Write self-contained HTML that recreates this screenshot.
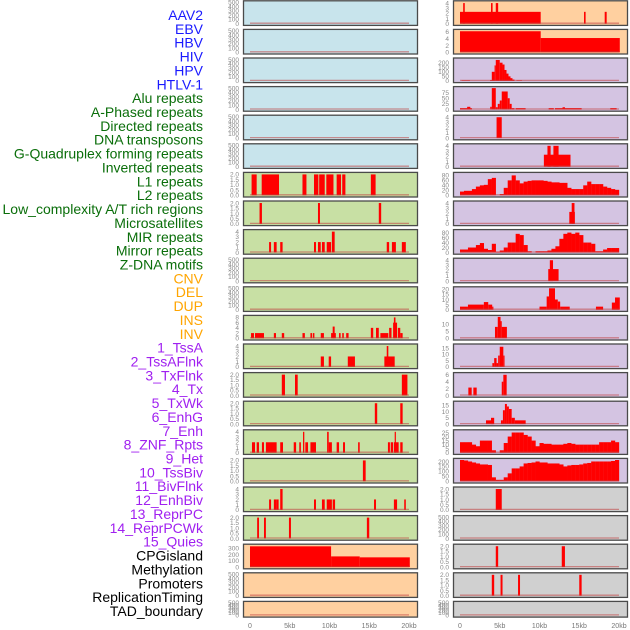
<!DOCTYPE html>
<html><head><meta charset="utf-8"><style>
html,body{margin:0;padding:0;background:#fff;}
svg{display:block;}
.lab{font-family:"Liberation Sans",sans-serif;font-size:14px;}
.tk{font-family:"Liberation Sans",sans-serif;font-size:6.5px;fill:#888;}
.xt{font-family:"Liberation Sans",sans-serif;font-size:7px;fill:#777;}
</style></head><body>
<svg id="chart" width="630" height="630" viewBox="0 0 630 630" xmlns="http://www.w3.org/2000/svg"></svg>
<script>
// ---- labels ----
const labelNames = ["AAV2","EBV","HBV","HIV","HPV","HTLV-1","Alu repeats","A-Phased repeats","Directed repeats","DNA transposons","G-Quadruplex forming repeats","Inverted repeats","L1 repeats","L2 repeats","Low_complexity A/T rich regions","Microsatellites","MIR repeats","Mirror repeats","Z-DNA motifs","CNV","DEL","DUP","INS","INV","1_TssA","2_TssAFlnk","3_TxFlnk","4_Tx","5_TxWk","6_EnhG","7_Enh","8_ZNF_Rpts","9_Het","10_TssBiv","11_BivFlnk","12_EnhBiv","13_ReprPC","14_ReprPCWk","15_Quies","CPGisland","Methylation","Promoters","ReplicationTiming","TAD_boundary"];
const labelGroups = [6,13,5,15,5];
const groupColors = ["#1a1aff","#0a6e0a","#ffa500","#a020f0","#000000"];
const xTickValues = [0,5,10,15,20];
const xTickLabels = ["0","5kb","10kb","15kb","20kb"];

// ---- data (kb start, kb end, value) ----
const L6 = [[0.2,0.84,2],[1.47,3.65,2],[6.6,7.1,2],[8.05,8.6,2],[8.7,9.4,2],[9.6,10.5,2],[10.9,11.45,2],[11.6,12.0,2],[15.2,15.8,2]];
const L7 = [[1.2,1.5,2],[8.55,8.8,2],[16.2,16.5,2]];
const L8 = [[2.4,2.65,2],[3.0,3.35,2],[3.8,4.1,2],[8.05,8.3,2],[8.55,8.9,2],[9.05,9.4,2],[9.65,10.2,2],[10.3,10.65,4],[17.2,17.5,2],[17.85,18.35,2],[19.1,19.6,2]];
const L11 = [[0.13,0.5,2],[0.63,1.76,2],[3.0,3.27,2],[4.0,4.3,2],[6.6,6.9,2],[7.6,7.8,2],[7.9,8.1,2],[8.9,9.3,2],[10.2,10.8,2],[10.4,10.65,4.5],[11.2,11.4,2],[11.6,11.8,2],[12.1,12.4,2],[15.2,15.5,4],[15.85,16.2,4],[16.4,17.4,2],[17.5,17.8,4],[18.0,18.5,6],[18.1,18.3,8],[18.6,18.9,4],[18.9,19.2,2]];
const L12 = [[8.9,9.3,2],[9.9,10.2,2],[12.3,13.2,2],[16.9,18.2,2],[17.2,17.4,4]];
const L13 = [[4.0,4.4,2],[5.66,6.0,2],[19.1,19.8,2]];
const L14 = [[15.7,16.0,2],[18.9,19.2,2]];
const L15 = [[0.25,0.63,2],[0.84,1.13,2],[1.5,1.76,2],[2.0,3.35,2],[3.8,4.15,2],[5.5,5.8,2],[6.2,6.4,2],[6.67,6.83,4],[6.96,7.3,2],[7.6,8.3,2],[9.7,9.9,4],[9.9,10.3,2],[10.9,11.2,2],[11.7,11.95,2],[13.6,13.8,2],[17.35,17.6,2],[17.7,18.0,2],[18.1,18.7,2],[18.2,18.35,4],[18.9,19.2,2]];
const L16 = [[14.2,14.55,2]];
const L17 = [[2.4,2.65,2],[3.0,3.35,2],[3.35,3.6,2],[3.8,4.1,4],[8.05,8.3,2],[9.05,9.4,2],[9.65,10.3,2],[10.4,10.7,2],[15.6,15.85,2],[18.1,18.5,2],[19.4,19.6,2]];
const L18 = [[0.9,1.13,2],[1.76,2.0,2],[4.9,5.15,2],[14.7,15.0,2]];
const L19 = [[0,10.2,330],[10.2,13.8,170],[13.8,20.1,155]];
const R0 = [[0,10.15,2.3],[0.4,0.6,4],[3.9,4.1,4],[4.5,4.8,4],[15.6,15.8,2.3],[18.2,18.45,2.3]];
const R1 = [[0,10.15,6.2],[10.15,20.1,4.2]];
const R2 = [[0.2,1.25,5],[3.8,4.0,10],[4.0,4.35,100],[4.35,4.5,170],[4.5,5.0,230],[5.0,5.35,200],[5.35,5.6,180],[5.6,5.85,120],[5.85,6.1,80],[6.1,6.35,50],[6.35,6.6,30],[6.6,6.85,15],[7.1,7.8,5]];
const R3 = [[0,1.5,6],[0.9,1.3,12],[3.8,4.0,12],[4.0,4.5,95],[4.5,4.75,10],[4.75,5.0,25],[5.0,5.25,40],[5.25,6.0,80],[6.0,6.25,50],[6.25,6.5,25],[6.5,6.85,6],[7.0,8.25,6],[11.15,11.8,6],[11.95,15.3,6],[12.9,13.2,10],[18.9,19.7,6]];
const R4 = [[4.6,5.25,4]];
const R5 = [[10.55,13.9,2.3],[11.0,11.4,4],[11.75,12.4,4]];
const R6 = [15,18,18,25,35,40,42,65,70,0,5,30,60,80,60,48,55,58,60,60,60,58,55,52,52,50,50,30,25,25,25,40,55,45,45,45,35,30,25,22];
const R7 = [[13.75,14.45,2.3],[14.05,14.4,4]];
const R8 = [12,12,20,20,30,38,15,10,35,3,8,20,40,40,75,70,30,5,0,5,5,5,8,15,25,55,75,80,75,80,70,40,40,35,5,5,12,18,18,18];
const R9 = [[11.1,12.4,2.3],[11.3,11.7,4]];
const R10 = [[0,1,3],[1,3.0,5],[3.0,3.55,7.5],[3.55,4.05,5],[4.05,4.2,3],[10,10.9,3],[10.9,11.2,13],[11.2,11.95,21],[11.95,12.3,10],[12.3,12.6,8],[12.6,13.8,3],[17.1,18.0,3],[19.1,19.5,7],[19.5,20.1,12]];
const R11 = [[4.4,4.75,8],[4.75,5.1,15],[5.1,5.25,12],[5.25,5.9,8]];
const R12 = [[4.07,4.3,3],[4.3,4.6,7],[4.6,4.8,3],[4.8,5.0,9],[5.0,5.45,16],[5.45,5.6,9]];
const R13 = [[1.05,1.47,2.3],[1.68,2.1,2.3],[5.25,5.45,4],[5.45,5.87,6]];
const R14 = [[3.27,4.2,3],[3.9,4.3,5],[5.15,5.4,3],[5.4,5.65,11],[5.65,5.9,16],[5.9,6.15,14],[6.15,6.5,12],[6.5,6.9,5],[6.9,8.26,3]];
const R15 = [13,13,13,10,8,15,15,15,3,0,3,12,20,25,25,25,22,20,15,8,12,11,11,10,10,10,11,12,11,10,10,10,10,10,10,13,13,13,15,13];
const R16 = [215,210,200,190,180,170,170,165,40,15,15,40,80,130,130,150,180,185,190,200,190,190,180,180,180,170,150,160,165,165,170,180,185,200,200,200,200,200,205,215];
const R17 = [[4.5,5.25,2]];
const R19 = [[4.5,4.8,2],[12.8,13.2,2]];
const R20 = [[4.0,4.3,2],[5.1,5.35,2],[7.3,7.55,2],[15.0,15.3,2]];
const EMPTY = [];

const T500 = [0,100,200,300,400,500];
const T2 = [0,0.5,1,1.5,2];
const T4 = [0,1,2,3,4];

// ---- track list: [col,row,bgKey,ticks,ymax,data,kind,name] ----
const tracks = [
 [0,0,"b",T500,500,EMPTY,"s","aav2"],[0,1,"b",T500,500,EMPTY,"s","ebv"],[0,2,"b",T500,500,EMPTY,"s","hbv"],
 [0,3,"b",T500,500,EMPTY,"s","hiv"],[0,4,"b",T500,500,EMPTY,"s","hpv"],[0,5,"b",T500,500,EMPTY,"s","htlv1"],
 [0,6,"g",T2,2.05,L6,"s","alu"],[0,7,"g",T2,2.05,L7,"s","a-phased"],[0,8,"g",T4,4.1,L8,"s","directed"],
 [0,9,"g",T500,500,EMPTY,"s","dna-transposons"],[0,10,"g",T500,500,EMPTY,"s","g-quadruplex"],
 [0,11,"g",[0,2,4,6,8],8.2,L11,"s","inverted"],[0,12,"g",T4,4.1,L12,"s","l1"],[0,13,"g",T2,2.05,L13,"s","l2"],
 [0,14,"g",T2,2.05,L14,"s","low-complexity"],[0,15,"g",T4,4.1,L15,"s","microsatellites"],[0,16,"g",T2,2.05,L16,"s","mir"],
 [0,17,"g",T4,4.1,L17,"s","mirror"],[0,18,"g",T2,2.05,L18,"s","z-dna"],
 [0,19,"o",[0,100,200,300],340,L19,"s","cnv"],[0,20,"o",T500,500,EMPTY,"s","del"],[0,21,"o",T500,500,EMPTY,"s","dup"],
 [1,0,"o",T4,4.15,R0,"s","ins"],[1,1,"o",[0,2,4,6],6.3,R1,"s","inv"],
 [1,2,"p",[0,50,100,150,200],235,R2,"s","tssa"],[1,3,"p",[0,25,50,75],95,R3,"s","tssaflnk"],
 [1,4,"p",T4,4.1,R4,"s","txflnk"],[1,5,"p",T4,4.1,R5,"s","tx"],[1,6,"p",[0,20,40,60,80],86,R6,"b","txwk"],
 [1,7,"p",T4,4.1,R7,"s","enhg"],[1,8,"p",[0,20,40,60,80],86,R8,"b","enh"],[1,9,"p",T4,4.1,R9,"s","znf-rpts"],
 [1,10,"p",[0,5,10,15,20],21,R10,"s","het"],[1,11,"p",[0,5,10],15,R11,"s","tssbiv"],
 [1,12,"p",[0,5,10,15],17,R12,"s","bivflnk"],[1,13,"p",[0,2,4,6],6.2,R13,"s","enhbiv"],
 [1,14,"p",[0,5,10,15],17,R14,"s","reprpc"],[1,15,"p",[0,5,10,15,20,25],26.5,R15,"b","reprpcwk"],
 [1,16,"p",[0,50,100,150,200],216,R16,"b","quies"],[1,17,"c",T2,2.05,R17,"s","cpgisland"],
 [1,18,"c",T500,500,EMPTY,"s","methylation"],[1,19,"c",T2,2.05,R19,"s","promoters"],
 [1,20,"c",T2,2.05,R20,"s","replication-timing"],[1,21,"c",T500,500,EMPTY,"s","tad-boundary"]
];

const NS = "http://www.w3.org/2000/svg";
const svg = document.getElementById("chart");
const bgColors = {b:"#c8e4ec",g:"#c8e0a4",o:"#ffd0a0",p:"#d4c4e2",c:"#d0d0d0"};
const colX = [243,453];
const panelW = 174;
function mk(tag, attrs, parent){ const e=document.createElementNS(NS,tag); for(const k in attrs) e.setAttribute(k,attrs[k]); (parent||svg).appendChild(e); return e; }
function xScale(col, kb){ return colX[col] + 7 + kb*7.95; }
function rowTop(r){ return 0.3 + r*28.6; }
function rowH(r){ return r===21 ? 15.7 : 24.6; }

// labels
let li = 0;
labelGroups.forEach((n,g)=>{
  for(let k=0;k<n;k++){
    const t = mk("text",{x:203,y:15+li*13.86+5,"text-anchor":"end",class:"lab",fill:groupColors[g]});
    
    
    t.textContent = labelNames[li];
    li++;
  }
});

function fmt(v, ticks){ return ticks[ticks.length-1]===2 ? v.toFixed(1) : String(v); }

tracks.forEach(tr=>{
  const [col,row,bgk,ticks,ymax,data,kind,name] = tr;
  const g = mk("g",{});
  
  
  const top = rowTop(row), h = rowH(row), x0 = colX[col];
  const r = mk("rect",{x:x0+0.5,y:top+0.5,width:panelW,height:h,fill:bgColors[bgk],stroke:"#4a4a4a","stroke-width":1.3},g);
  
  
  const yb = top + h - 1.2, yt = top + 2;
  const ys = v => yb - (v/ymax)*(yb-yt);
  ticks.forEach(v=>{
    const t = mk("text",{x:x0-4,y:ys(v)+2.3,"text-anchor":"end",class:"tk"},g);
    
    
    t.textContent = fmt(v, ticks);
  });
  const segs = kind==="b" ? data.map((v,i)=>[i*0.5,(i+1)*0.5+0.02,v]) : data;
  segs.forEach(s=>{
    if(s[2]<=0) return;
    const xa = xScale(col,s[0]), xb = xScale(col,s[1]);
    const b = mk("rect",{x:xa,y:ys(s[2]),width:Math.max(1.2,xb-xa),height:yb-ys(s[2]),fill:"#ff0000"},g);
    
    
  });
  const bl = mk("line",{x1:xScale(col,0),x2:xScale(col,20),y1:yb-0.5,y2:yb-0.5,stroke:"#c04040","stroke-opacity":0.55,"stroke-width":1.3},g);
  
  
});

// x axes
[0,1].forEach(col=>{
  xTickValues.forEach((v,i)=>{
    const t = mk("text",{x:xScale(col,v),y:628,"text-anchor":"middle",class:"xt"});
    
    
    t.textContent = xTickLabels[i];
  });
});
</script>
</body></html>
